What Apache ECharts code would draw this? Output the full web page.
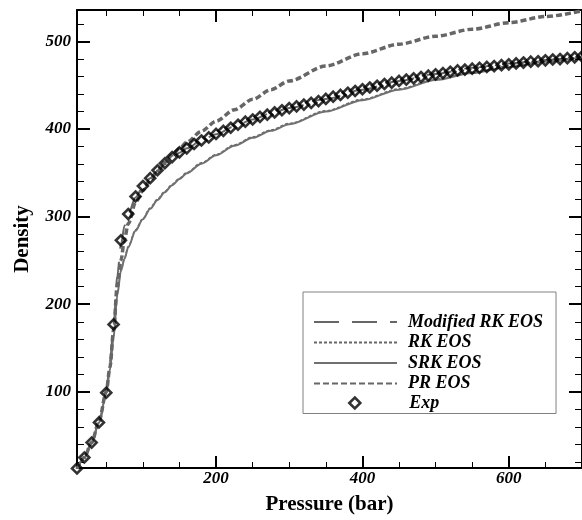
<!DOCTYPE html>
<html>
<head>
<meta charset="utf-8">
<script src="https://cdn.jsdelivr.net/npm/echarts@6/dist/echarts.min.js"></script>
<style>
  html, body { margin: 0; padding: 0; background: #fff; }
  #chart { width: 582px; height: 520px; }
</style>
</head>
<body>
<div id="chart"></div>
<script>
// pressure grid used by the EOS curves (bar)
var P_MODEL = [10, 20, 30, 40, 50, 55, 60, 65, 70, 75, 80, 90, 100, 110, 120, 130, 140, 150, 160,
  180, 200, 225, 250, 275, 300, 350, 400, 450, 500, 550, 600, 650, 700]

var MOD_RK = [12, 25, 42, 65, 99, 135, 175, 232, 268, 290, 303, 322, 334, 344, 352, 360, 367, 373, 378,
  387, 394, 403, 411, 418, 424, 434.5, 445, 455, 463, 470, 475, 479, 483]
var RK = [12, 25, 42, 65, 98, 126, 164, 211, 239, 253, 266, 285, 298, 310, 320, 329, 337, 344, 350.5,
  361.5, 371, 382, 391, 399, 406.5, 421, 434, 446, 457, 465, 472, 478, 483]
var SRK = [12, 25, 42, 65, 98, 125, 162, 210, 238, 252, 265, 284, 297, 309, 319, 328, 336, 343, 349.5,
  360.5, 370, 381, 390, 398, 405.5, 420, 433, 445, 456, 464, 471, 477, 482]
var PR = [12, 25, 42, 66, 100, 128, 170, 222, 250, 275, 292, 316, 330, 342, 352, 362, 370.5, 378, 385,
  397.5, 409, 422, 434, 445, 455, 472, 486, 497, 506, 514, 521.5, 528.5, 535]

// experimental points
var P_EXP = [10, 20, 30, 40, 50, 60, 70, 80, 90, 100, 110, 120, 130, 140, 150, 160, 170, 180, 190, 200,
  210, 220, 230, 240, 250, 260, 270, 280, 290, 300, 310, 320, 330, 340, 350, 360, 370, 380, 390, 400,
  410, 420, 430, 440, 450, 460, 470, 480, 490, 500, 510, 520, 530, 540, 550, 560, 570, 580, 590, 600,
  610, 620, 630, 640, 650, 660, 670, 680, 690, 700]
var D_EXP = [12.5, 25, 42, 65, 99, 177, 273, 303, 323, 335, 344, 353, 361, 368, 373.5, 378, 383, 387, 390.5, 394.5,
  398, 401.5, 405, 408.5, 411, 414, 416.5, 419, 421.5, 424, 426, 428, 430, 432, 434.5, 437, 439, 441.5, 443.5, 445.5,
  447.5, 449.5, 451.5, 453, 455, 456.5, 458, 459.5, 461, 462.5, 464, 465.5, 467, 468, 469, 470, 471, 472, 473, 474,
  475, 476, 477, 477.5, 478.5, 479.5, 480, 481, 482, 483]

var X_MAJOR = [200, 400, 600]
var X_MINOR = [50, 100, 150, 250, 300, 350, 450, 500, 550, 650]
var Y_MAJOR = [100, 200, 300, 400, 500]
var Y_MINOR = [20, 40, 60, 80, 120, 140, 160, 180, 220, 240, 260, 280, 320, 340, 360, 380,
  420, 440, 460, 480, 520]

var FONT = '"Liberation Serif", "DejaVu Serif", serif'
var GRAY = '#666666'
var NONE = 'rgba(0,0,0,0)'

function pairs (xs, ys) {
  return xs.map(function (x, i) { return [x, ys[i]] })
}

// one axis per side and per tick size, all ticks pointing inside
function axis (pos, min, max, ticks, len, width, withLine, withLabel) {
  return {
    type: 'value',
    position: pos,
    min: min,
    max: max,
    axisLine: { show: withLine, onZero: false, lineStyle: { color: '#000', width: 2 } },
    axisTick: { show: true, inside: true, length: len, customValues: ticks, lineStyle: { color: '#000', width: width } },
    axisLabel: {
      show: withLabel,
      customValues: ticks,
      color: '#000',
      fontFamily: FONT,
      fontWeight: 'bold',
      fontStyle: 'italic',
      fontSize: 17,
      margin: (pos === 'bottom') ? 2 : 6
    },
    splitLine: { show: false }
  }
}

var xBottom = axis('bottom', 10, 700, X_MAJOR, 12, 2, true, true)
xBottom.name = 'Pressure (bar)'
xBottom.nameLocation = 'middle'
xBottom.nameGap = 26
xBottom.nameTextStyle = { fontFamily: FONT, fontWeight: 'bold', fontSize: 21, color: '#000' }

var yLeft = axis('left', 13, 536, Y_MAJOR, 13, 2, true, true)
yLeft.name = 'Density'
yLeft.nameLocation = 'middle'
yLeft.nameGap = 44
yLeft.nameRotate = 90
yLeft.nameTextStyle = { fontFamily: FONT, fontWeight: 'bold', fontSize: 21, color: '#000' }

var legendText = {
  fontFamily: FONT,
  fontWeight: 'bold',
  fontStyle: 'italic',
  fontSize: 18,
  lineHeight: 20,
  color: '#000'
}

var chart = echarts.init(document.getElementById('chart'))
chart.setOption({
  animation: false,
  backgroundColor: '#fff',
  grid: { left: 77, top: 10, right: -4, bottom: 47 },
  xAxis: [
    xBottom,
    axis('bottom', 10, 700, X_MINOR, 6, 1, false, false),
    axis('top', 10, 700, X_MAJOR, 12, 2, true, false),
    axis('top', 10, 700, X_MINOR, 6, 1, false, false)
  ],
  yAxis: [
    yLeft,
    axis('left', 13, 536, Y_MINOR, 7, 1, false, false),
    axis('right', 13, 536, Y_MAJOR, 13, 2, true, false),
    axis('right', 13, 536, Y_MINOR, 7, 1, false, false)
  ],
  legend: [
    {
      // boxed legend for the curves, with room left at the bottom for Exp
      orient: 'vertical',
      left: 303,
      top: 292,
      padding: [20, 13, 20, 10],
      itemWidth: 83,
      itemHeight: 10,
      itemGap: 0.5,
      backgroundColor: '#fff',
      borderColor: '#808080',
      borderWidth: 1,
      borderRadius: 0,
      textStyle: Object.assign({ padding: [0, 0, 0, 6] }, legendText),
      data: ['Modified RK EOS', 'RK EOS', 'SRK EOS', 'PR EOS']
    },
    {
      // Exp row, kept apart so the diamond keeps its shape
      orient: 'vertical',
      left: 348,
      top: 393,
      padding: 0,
      itemWidth: 11,
      itemHeight: 11,
      itemStyle: { color: NONE, borderColor: '#000', borderWidth: 2.6 },
      textStyle: Object.assign({ padding: [0, 0, 0, 44] }, legendText),
      data: ['Exp']
    }
  ],
  series: [
    {
      name: 'Modified RK EOS',
      type: 'line',
      data: pairs(P_MODEL, MOD_RK),
      symbol: 'none',
      smooth: 0.3,
      smoothMonotone: 'x',
      itemStyle: { color: NONE },
      lineStyle: { color: GRAY, width: 2, type: [25, 13] }
    },
    {
      name: 'RK EOS',
      type: 'line',
      data: pairs(P_MODEL, RK),
      symbol: 'none',
      smooth: 0.3,
      smoothMonotone: 'x',
      itemStyle: { color: NONE },
      lineStyle: { color: GRAY, width: 1.5, type: [3, 2] }
    },
    {
      name: 'SRK EOS',
      type: 'line',
      data: pairs(P_MODEL, SRK),
      symbol: 'none',
      smooth: 0.3,
      smoothMonotone: 'x',
      itemStyle: { color: NONE },
      lineStyle: { color: '#707070', width: 2 }
    },
    {
      name: 'PR EOS',
      type: 'line',
      data: pairs(P_MODEL, PR),
      symbol: 'none',
      smooth: 0.3,
      smoothMonotone: 'x',
      itemStyle: { color: NONE },
      lineStyle: { color: GRAY, width: 3.5, type: [6, 3] }
    },
    {
      name: 'Exp',
      type: 'scatter',
      data: pairs(P_EXP, D_EXP),
      symbol: 'diamond',
      symbolSize: 10,
      clip: false,
      z: 5,
      itemStyle: { color: NONE, borderColor: '#000', borderWidth: 2.6 }
    }
  ]
})
</script>
</body>
</html>
